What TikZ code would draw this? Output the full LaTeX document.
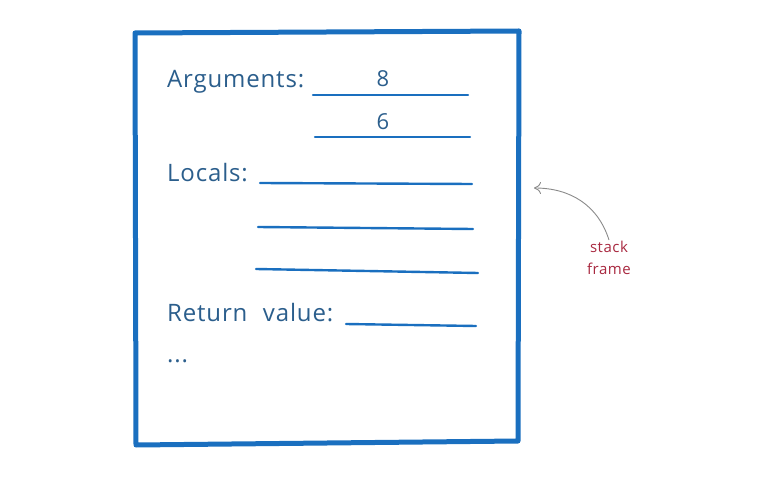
\documentclass[tikz,border=0pt]{standalone}
\usepackage{fontspec}
\setmainfont{Open Sans}[LetterSpace=3.5, WordSpace=2.2]
\usetikzlibrary{arrows.meta}

\definecolor{frameblue}{HTML}{1A6FBF}
\definecolor{inkblue}{HTML}{2B5E8C}
\definecolor{notered}{HTML}{A8283F}
\definecolor{pencil}{HTML}{8A8A8A}

\begin{document}
\begin{tikzpicture}[x=1pt, y=-1pt, >={To[length=7pt,width=12pt]},
    field/.style={anchor=base west, inner sep=0pt, text=inkblue,
        font=\fontsize{24}{28}\selectfont},
    value/.style={anchor=base, inner sep=0pt, text=inkblue,
        font=\fontsize{22}{26}\selectfont},
    slot/.style={draw=frameblue, line width=2.4pt, line cap=round},
    note/.style={align=center, text=notered, inner sep=1pt,
        font=\fontsize{15}{22}\selectfont}]
    \useasboundingbox (0,0) rectangle (768,478);

    % the frame itself
    \draw[frameblue, line width=5pt, line join=round]
        (135,33) -- (519,31) -- (518,441) -- (136,445) -- cycle;

    % field names
    \node[field] (args) at (167,88) {Arguments:};
    \node[field] (locals) at (167,182) {Locals:};
    \node[field] (ret) at (167,321) {Return value:};
    \node[field] (more) at (167,362) {...};

    % blank slots
    \draw[slot] (313,95) -- (468,95);
    \draw[slot] (315,137) -- (470,137);
    \foreach \xa/\xb/\ya/\yb in {260/472/183/184, 258/473/227/229, 256/478/269/273, 346/476/324/326}
        \draw[slot] (\xa,\ya) -- (\xb,\yb);

    \node[value] (arg1) at (383,87) {8};
    \node[value] (arg2) at (383,130) {6};

    % annotation
    \node[note] (label) at (609,258) {stack\\frame};
    \coordinate (side) at (534,188);
    \draw[->, pencil, line width=0.9pt]
        (label.north) .. controls (598,205) and (570,188) .. (side);
\end{tikzpicture}
\end{document}
